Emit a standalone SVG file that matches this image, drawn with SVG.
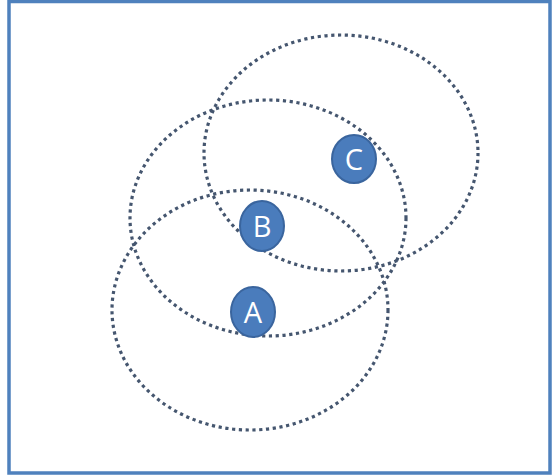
<svg xmlns="http://www.w3.org/2000/svg" width="554" height="475" viewBox="0 0 554 475">
<style>
.ring{fill:none;stroke:#45566f;stroke-width:3.2;stroke-dasharray:3.2 3.6}
.node{fill:#4a7cbc;stroke:#3a659e;stroke-width:2}
.lbl{font-family:"Open Sans","Liberation Sans",sans-serif;font-size:29px;fill:#ffffff;text-anchor:middle}
</style>
<rect x="0" y="0" width="554" height="475" fill="#ffffff"/>
<rect x="9" y="1.5" width="541" height="471.5" fill="none" stroke="#4f81bd" stroke-width="3.5"/>
<g id="connectors">
<ellipse class="ring" cx="341" cy="153" rx="137" ry="118"/>
<ellipse class="ring" cx="268" cy="218" rx="138" ry="118"/>
<ellipse class="ring" cx="250" cy="310" rx="138" ry="120"/>
</g>
<g id="node-C">
<ellipse class="node" cx="354" cy="159" rx="22" ry="24"/>
<text class="lbl" x="354" y="170">C</text>
</g>
<g id="node-B">
<ellipse class="node" cx="262" cy="226" rx="22" ry="25"/>
<text class="lbl" x="262" y="237">B</text>
</g>
<g id="node-A">
<ellipse class="node" cx="253" cy="312" rx="22" ry="25"/>
<text class="lbl" x="253" y="323">A</text>
</g>
</svg>
